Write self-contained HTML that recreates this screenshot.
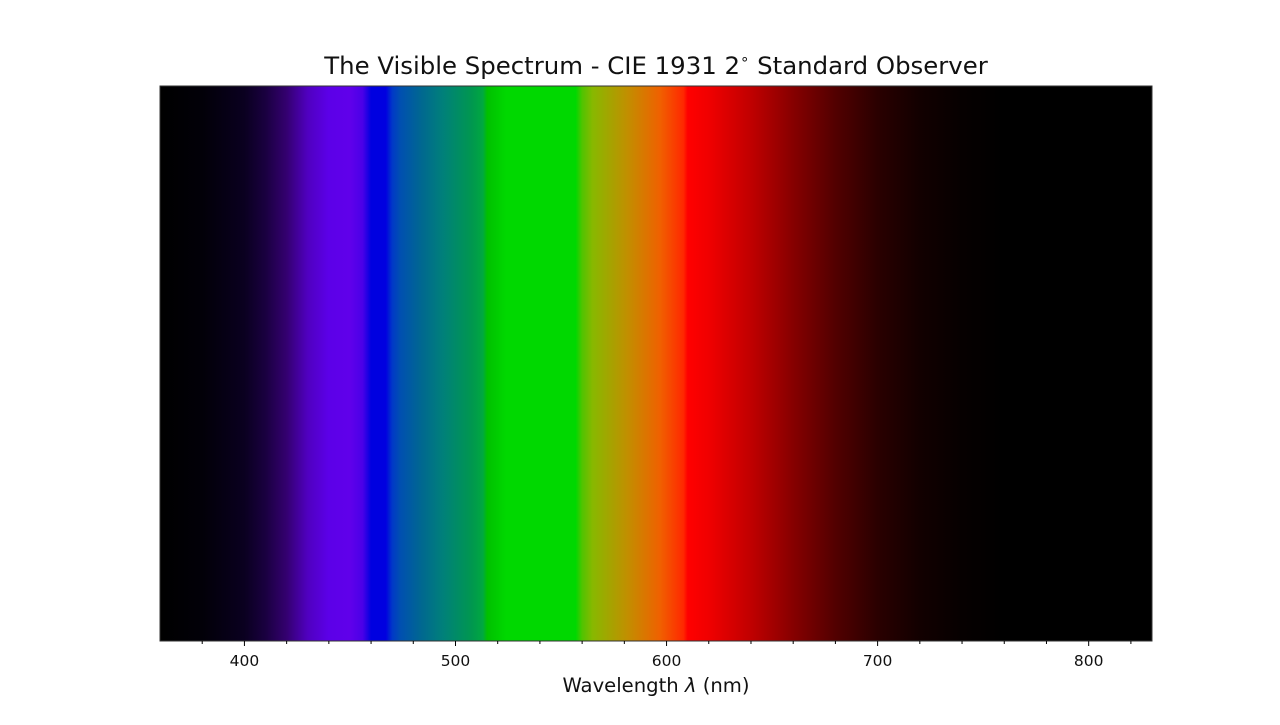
<!DOCTYPE html>
<html><head><meta charset="utf-8"><style>
body{margin:0;background:#fff;}
svg text{font-family:"DejaVu Sans","Liberation Sans",sans-serif;}
</style></head><body>
<svg id="chart" width="1280" height="720" xmlns="http://www.w3.org/2000/svg">
<defs><linearGradient id="spec" x1="0" x2="1" y1="0" y2="0"></linearGradient></defs>
<text x="656" y="74" font-size="24.4" text-anchor="middle" fill="#111">The Visible Spectrum - CIE 1931 2<tspan font-size="15" dy="-10">∘</tspan><tspan dy="10"> Standard Observer</tspan></text>
<rect id="plot" x="160" y="86" width="992" height="555" fill="url(#spec)" stroke="#333" stroke-width="1"/>
<g id="ticks"></g>
<text x="656" y="692" font-size="19.6" text-anchor="middle" fill="#111">Wavelength <tspan font-style="italic">λ</tspan> (nm)</text>
</svg>
<script>
const wavelengths=[360,380,400,410,420,430,440,450,456,460,467,470,474,484,494,508,513,515,524,557,560,565,581,597,608,610,620,640,660,680,700,720,740,760,830];
const colors=["#000000","#020008","#0a0020","#1a0040","#340070","#5000c0","#5c00e8","#6000ea","#4a00e8","#0000e0","#0000e0","#0038c8","#0050b0","#006890","#00807a","#00984e","#00a840","#00c000","#00d800","#00d800","#50c400","#88b800","#c09000","#f06000","#ff2800","#ff0000","#f00000","#c00000","#860000","#520000","#2a0000","#120000","#060000","#000000","#000000"];
const majorTicks=[400,500,600,700,800];
const minorTicks=[380,420,440,460,480,520,540,560,580,620,640,660,680,720,740,760,780,820];
const xmin=360,xmax=830,x0=160,x1=1152;
function xs(w){return x0+(w-xmin)/(xmax-xmin)*(x1-x0);}
const NS="http://www.w3.org/2000/svg";
const grad=document.getElementById('spec');
wavelengths.forEach((w,i)=>{
  const s=document.createElementNS(NS,'stop');
  s.setAttribute('offset',((xs(w)-x0)/(x1-x0)).toFixed(4));
  s.setAttribute('stop-color',colors[i]);
  grad.appendChild(s);
});
const g=document.getElementById('ticks');
majorTicks.forEach(t=>{
  const l=document.createElementNS(NS,'line');
  l.setAttribute('x1',xs(t));l.setAttribute('x2',xs(t));l.setAttribute('y1',641);l.setAttribute('y2',646);
  l.setAttribute('stroke','#000');
  
  
  g.appendChild(l);
  const tx=document.createElementNS(NS,'text');
  tx.setAttribute('x',xs(t));tx.setAttribute('y',666);tx.setAttribute('font-size','15.5');tx.setAttribute('text-anchor','middle');tx.setAttribute('fill','#111');
  tx.textContent=t;
  
  
  g.appendChild(tx);
});
minorTicks.forEach(t=>{
  const l=document.createElementNS(NS,'line');
  l.setAttribute('x1',xs(t));l.setAttribute('x2',xs(t));l.setAttribute('y1',641);l.setAttribute('y2',644);
  l.setAttribute('stroke','#000');
  
  
  g.appendChild(l);
});
</script>
</body></html>
